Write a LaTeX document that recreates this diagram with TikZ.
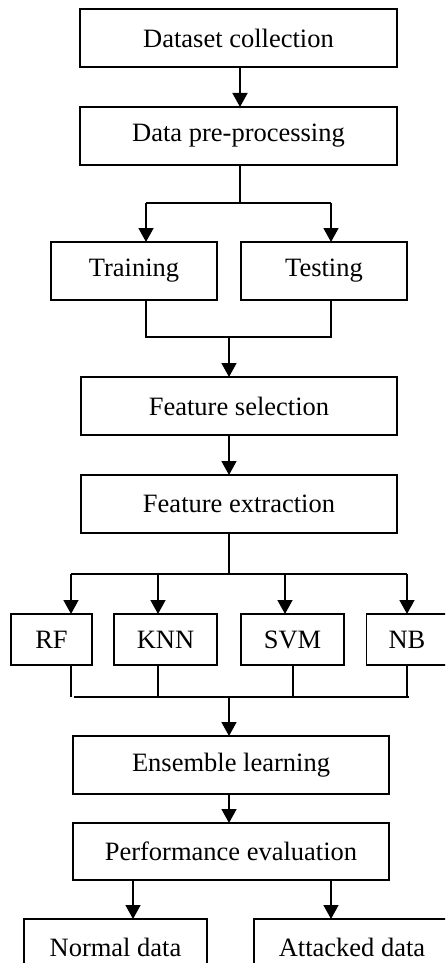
\documentclass[tikz,border=0pt]{standalone}
\usepackage{fontspec}
\setmainfont{Liberation Serif}
\usetikzlibrary{arrows.meta,calc}
\begin{document}
\begin{tikzpicture}[x=1pt,y=-1pt,
  box/.style={draw,line width=1.7pt,rectangle,inner sep=0pt,outer sep=0pt,
    font=\fontsize{26.5}{30}\selectfont},
  ln/.style={line width=1.5pt},
  arr/.style={line width=1.5pt,-{Triangle[width=15pt,length=14pt]}}]
\useasboundingbox (0,0) rectangle (445,963);
\clip (0,0) rectangle (445,963);
% boxes
\node[box,minimum width=317pt,minimum height=57.5pt] (ds) at (238.5,38) {Dataset collection};
\node[box,minimum width=317pt,minimum height=58pt] (pre) at (238.5,136) {Data pre-processing};
\node[box,minimum width=166pt,minimum height=58pt] (train) at (134,271) {Training};
\node[box,minimum width=166pt,minimum height=58pt] (test) at (324,271) {Testing};
\node[box,minimum width=316pt,minimum height=58pt] (fsel) at (239,406) {Feature selection};
\node[box,minimum width=316pt,minimum height=58pt] (fext) at (239,504) {Feature extraction};
\node[box,minimum width=81pt,minimum height=51pt] (rf) at (51.5,639.5) {RF};
\node[box,minimum width=103pt,minimum height=51pt] (knn) at (165.5,639.5) {KNN};
\node[box,minimum width=103pt,minimum height=51pt] (svm) at (292.5,639.5) {SVM};
\node[box,minimum width=81pt,minimum height=51pt] (nb) at (407,639.5) {NB};
\node[box,minimum width=316pt,minimum height=58pt] (ens) at (231,765) {Ensemble learning};
\node[box,minimum width=316pt,minimum height=57pt] (perf) at (231,851.5) {Performance evaluation};
\node[box,minimum width=183pt,minimum height=56pt] (norm) at (115.5,947) {Normal data};
\node[box,minimum width=196pt,minimum height=56pt] (att) at (352,947) {Attacked data};
% coordinates
\coordinate (a1) at (240,0);
\coordinate (sp) at (240,203);
\coordinate (ta) at (146,203);
\coordinate (tb) at (331,203);
\coordinate (ma) at (146,337);
\coordinate (mb) at (331,337);
\coordinate (mc) at (229,337);
\coordinate (fx) at (229,574);
\coordinate (f1) at (71,574);
\coordinate (f2) at (158,574);
\coordinate (f3) at (285,574);
\coordinate (f4) at (407,574);
\coordinate (g1) at (71,697);
\coordinate (g1b) at (74,697);
\coordinate (g2) at (158,697);
\coordinate (g3) at (293,697);
\coordinate (g4) at (407,697);
\coordinate (g4b) at (409,697);
\coordinate (gc) at (229,697);
\coordinate (pa) at (133,0);
\coordinate (pb) at (331,0);
% connectors
\draw[arr] (ds.south -| a1) -- (pre.north -| a1);
\draw[ln] (pre.south -| sp) -- (sp);
\draw[ln] (ta) -- (tb);
\draw[arr] (ta) -- (train.north -| ta);
\draw[arr] (tb) -- (test.north -| tb);
\draw[ln] (train.south -| ma) -- (ma) -- (mb) -- (test.south -| mb);
\draw[arr] (mc) -- (fsel.north -| mc);
\draw[arr] (fsel.south -| mc) -- (fext.north -| mc);
\draw[ln] (fext.south -| fx) -- (fx);
\draw[ln] (f1) -- (f4);
\draw[arr] (f1) -- (rf.north -| f1);
\draw[arr] (f2) -- (knn.north -| f2);
\draw[arr] (f3) -- (svm.north -| f3);
\draw[arr] (f4) -- (nb.north -| f4);
\draw[ln] (rf.south -| g1) -- (g1);
\draw[ln] (knn.south -| g2) -- (g2);
\draw[ln] (svm.south -| g3) -- (g3);
\draw[ln] (nb.south -| g4) -- (g4);
\draw[ln] (g1b) -- (g4b);
\draw[arr] (gc) -- (ens.north -| gc);
\draw[arr] (ens.south -| gc) -- (perf.north -| gc);
\draw[arr] (perf.south -| pa) -- (norm.north -| pa);
\draw[arr] (perf.south -| pb) -- (att.north -| pb);
\end{tikzpicture}
\end{document}
